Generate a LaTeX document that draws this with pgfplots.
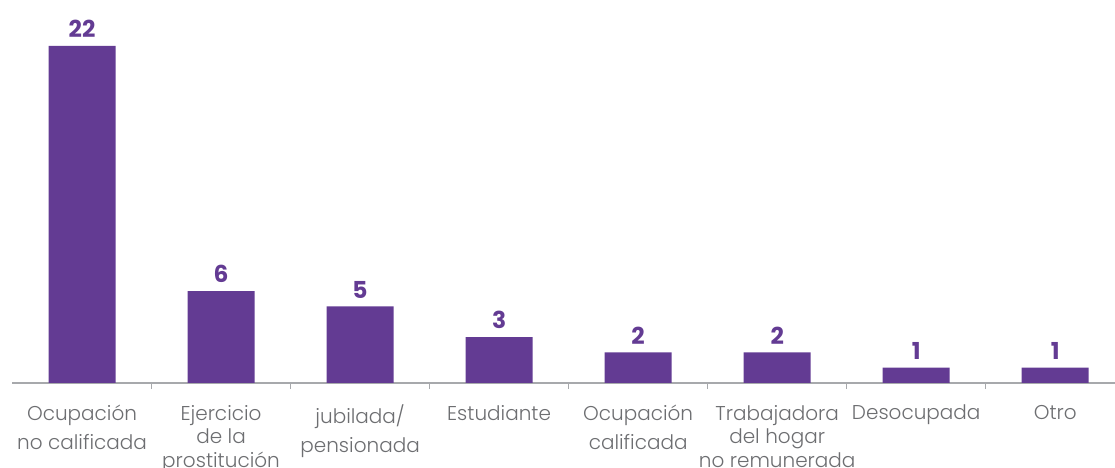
\documentclass[border=0pt]{standalone}
\usepackage{pgfplots}
\pgfplotsset{compat=1.18}
\usepackage{fontspec}
\setmainfont{Poppins}[UprightFont=* Light, BoldFont=* Bold]
\definecolor{barpurple}{HTML}{633B93}
\definecolor{labgray}{HTML}{6D6E71}
\definecolor{axgray}{HTML}{A7A9AC}
\begin{document}
\begin{tikzpicture}
\begin{axis}[
  name=ax,
  scale only axis,
  width=826.875pt, height=287.25pt,
  xmin=-0.5, xmax=7.43,
  ymin=0, ymax=25,
  axis x line*=bottom,
  axis y line=none,
  x axis line style={draw=axgray, line width=0.9pt, -},
  xtick={0,...,7},
  xticklabels={{Ocupación\\no calificada},{Ejercicio\\[-3.75pt]de la\\[-3.75pt]prostitución},{jubilada/\\pensionada},{Estudiante},{Ocupación\\calificada},{Trabajadora\\[-3.75pt]del hogar\\[-3.75pt]no remunerada},{Desocupada},{Otro}},
  major tick length=0pt,
  minor xtick={0.5,1.5,...,6.5},
  minor tick length=4.5pt,
  tick align=inside,
  minor tick style={draw=axgray, line width=0.8pt},
  x tick label style={font=\fontsize{15}{21.5}\selectfont, text=labgray, align=center, yshift=-13pt},
  ybar,
  bar width=50.25pt,
  clip=false,
  /pgf/number format/assume math mode=true,
  nodes near coords,
  every node near coord/.append style={font=\fontsize{17.5}{20}\selectfont\bfseries, text=barpurple, yshift=2.5pt},
]
\addplot[fill=barpurple, draw=none] coordinates {(0,22) (1,6) (2,5) (3,3) (4,2) (5,2) (6,1) (7,1)};
\end{axis}
\pgfresetboundingbox
\path (-9.375pt,-63.75pt) rectangle (826.875pt,287.25pt);
\end{tikzpicture}
\end{document}
